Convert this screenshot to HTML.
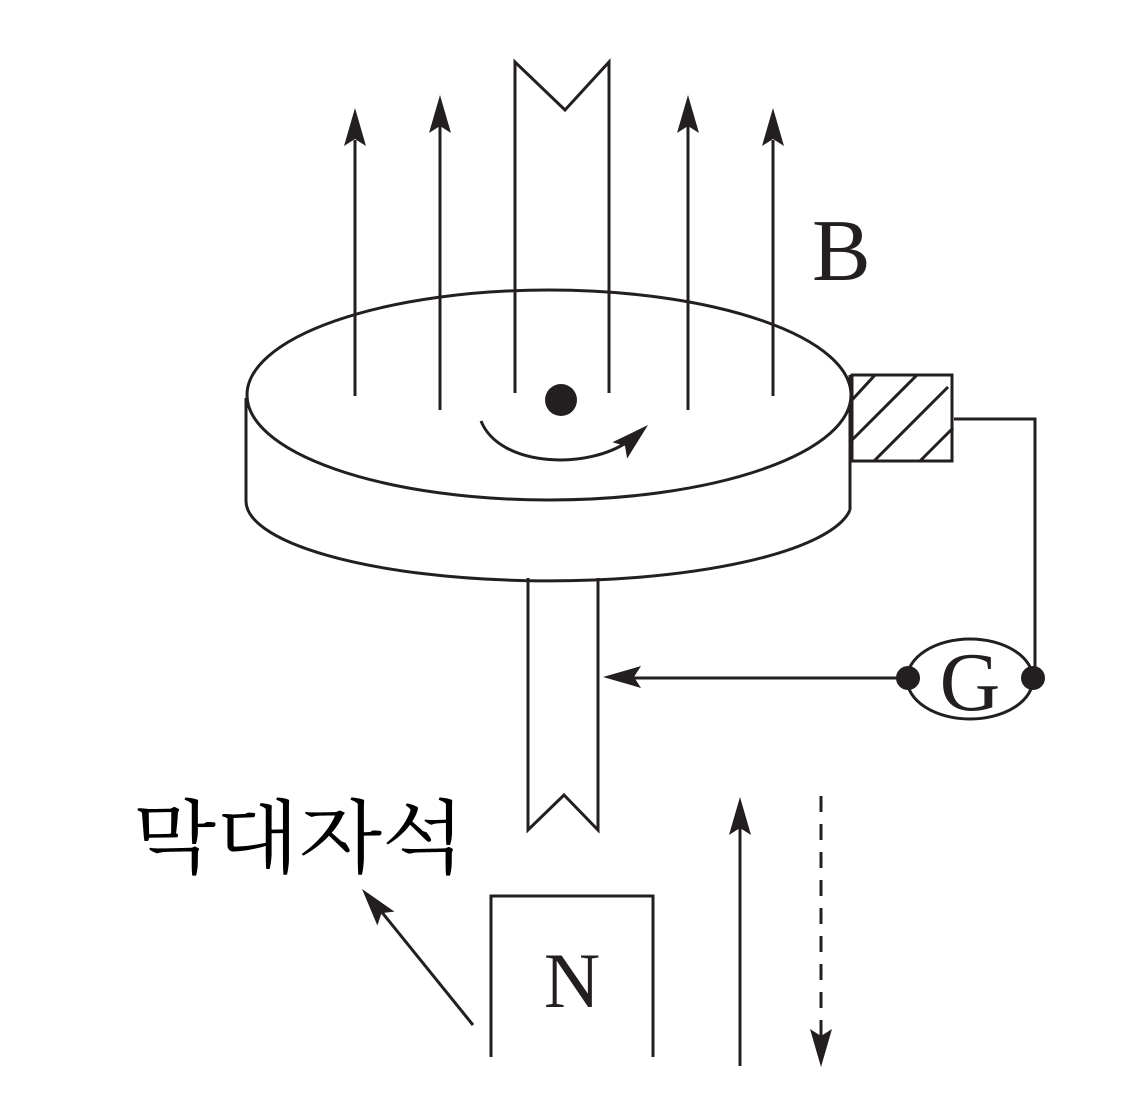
<!DOCTYPE html>
<html><head><meta charset="utf-8"><style>html,body{margin:0;padding:0;background:#fff}svg{display:block}</style></head>
<body>
<svg width="1133" height="1110" viewBox="0 0 1133 1110" xmlns="http://www.w3.org/2000/svg">
<defs>
<path id="ah" d="M0,0 L11,38 L0,31 L-11,38 Z" fill="#231f20"/>
</defs>
<g stroke="#231f20" stroke-width="3" fill="none">
<path d="M246,500 A303,80 0 0 0 850,510"/>
<line x1="246" y1="398" x2="246" y2="500"/>
<line x1="850" y1="375" x2="850" y2="510"/>
<ellipse cx="549" cy="395" rx="302" ry="105" fill="#fff"/>
<line x1="355" y1="140" x2="355" y2="396"/>
<line x1="440" y1="125" x2="440" y2="410"/>
<line x1="688" y1="125" x2="688" y2="410"/>
<line x1="773" y1="140" x2="773" y2="396"/>
<path d="M515,393 L515,62 L565,110 L609,62 L609,393"/>
<path d="M528,578 L528,830 L564,795 L598,830 L598,578"/>
<rect x="852" y="375" width="100" height="86"/>
<line x1="852" y1="400" x2="875" y2="375"/>
<line x1="852" y1="440" x2="917" y2="375"/>
<line x1="874" y1="461" x2="948" y2="387"/>
<line x1="920" y1="461" x2="953" y2="428"/>
<path d="M954,419 L1035,419 L1035,675"/>
<ellipse cx="970" cy="679" rx="63" ry="40"/>
<line x1="630" y1="678" x2="907" y2="678"/>
<path d="M481,421 C500,468 590,470 630,440"/>
<path d="M491,1057 L491,896 L653,896 L653,1057"/>
<line x1="473" y1="1025" x2="372" y2="900"/>
<line x1="740" y1="1066" x2="740" y2="820"/>
<line x1="821" y1="796" x2="821" y2="1040" stroke-dasharray="16,12"/>
</g>
<g fill="#231f20">
<use href="#ah" transform="translate(355,108)"/>
<use href="#ah" transform="translate(440,95)"/>
<use href="#ah" transform="translate(688,95)"/>
<use href="#ah" transform="translate(773,108)"/>
<use href="#ah" transform="translate(603,677) rotate(-90)"/>
<use href="#ah" transform="translate(648,425) rotate(48)"/>
<use href="#ah" transform="translate(362,889) rotate(-39)"/>
<use href="#ah" transform="translate(740,797)"/>
<use href="#ah" transform="translate(821,1067) rotate(180)"/>
<circle cx="561" cy="400" r="16"/>
<circle cx="908" cy="678" r="12"/>
<circle cx="1033" cy="678" r="12"/>
</g>
<g fill="#231f20" font-family="Liberation Serif, serif">
<text x="812" y="280" font-size="88">B</text>
<text x="970" y="710" font-size="84" text-anchor="middle">G</text>
<text x="572" y="1007" font-size="78" text-anchor="middle">N</text>
</g>
<text x="133" y="866" font-size="80" textLength="332" lengthAdjust="spacingAndGlyphs" fill="#000" font-family="'Liberation Serif','Noto Serif CJK SC','NanumGothic',serif">막대자석</text>
</svg>
</body></html>
